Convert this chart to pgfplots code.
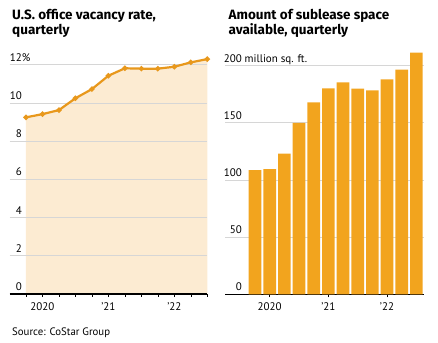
\documentclass[border=0pt]{standalone}
\usepackage{pgfplots}
\pgfplotsset{compat=1.18}
\usepackage{fontspec}
\setmainfont{PT Sans}
\newfontfamily\titlefont{Fira Sans}
\definecolor{lineor}{HTML}{E8981C}
\definecolor{fillpeach}{HTML}{FCEBD2}
\definecolor{baror}{HTML}{F2A41E}
\definecolor{gridg}{HTML}{D6D6D6}
\begin{document}
\begin{tikzpicture}
\begin{axis}[
  set layers,
  at={(9.5pt,-294pt)}, anchor=south west, scale only axis,
  width=197.8pt, height=236.8pt,
  xmin=-1, xmax=11, ymin=0, ymax=12.4,
  axis x line*=bottom, axis y line*=left,
  x axis line style={black, line width=1.5pt, -},
  y axis line style={draw=none},
  ytick={0,2,4,6,8,10,12},
  yticklabels={0,2,4,6,8,10,12\rlap{\%}},
  ytick style={draw=none},
  yticklabel style={anchor=base east, inner sep=0pt, xshift=15.5pt, yshift=3.5pt, font=\fontsize{11}{13}\selectfont},
  ymajorgrids, grid style={gridg, line width=0.8pt},
  xtick={1,5,9}, xticklabels={2020,’21,’22},
  minor xtick={0,...,11},
  tick align=outside,
  major tick length=3pt, minor tick length=2.5pt,
  tick style={black, line width=0.6pt},
  xticklabel style={anchor=base, inner sep=0pt, font=\fontsize{11}{13}\selectfont, yshift=-13.5pt},
  clip=false,
]
\addplot[fill=fillpeach, draw=none, on layer=axis background] coordinates {
(0,9.25)(1,9.42)(2,9.63)(3,10.25)(4,10.73)(5,11.43)(6,11.82)(7,11.8)(8,11.8)(9,11.9)(10,12.13)(11,12.3)} \closedcycle;
\addplot[lineor, line width=2.2pt, mark=*, mark size=1.4pt, mark options={fill=lineor, draw=lineor}] coordinates {
(0,9.25)(1,9.42)(2,9.63)(3,10.25)(4,10.73)(5,11.43)(6,11.82)(7,11.8)(8,11.8)(9,11.9)(10,12.13)(11,12.3)};
\end{axis}
\begin{axis}[
  at={(225pt,-294.3pt)}, anchor=south west, scale only axis,
  width=198.7pt, height=245.7pt,
  xmin=-2.05, xmax=11.5, ymin=0, ymax=215,
  axis x line*=bottom, axis y line*=left,
  x axis line style={black, line width=1.5pt, -},
  y axis line style={draw=none},
  ytick={0,50,100,150,200},
  yticklabels={0,50,100,150,200\rlap{ million sq. ft.}},
  ytick style={draw=none},
  yticklabel style={anchor=base east, inner sep=0pt, xshift=20pt, yshift=3.5pt, font=\fontsize{11}{13}\selectfont},
  ymajorgrids, grid style={gridg, line width=0.8pt},
  xtick={1,5,9}, xticklabels={2020,’21,’22},
  tick align=outside,
  major tick length=3pt,
  tick style={black, line width=0.6pt},
  xticklabel style={anchor=base, inner sep=0pt, font=\fontsize{11}{13}\selectfont, yshift=-13.5pt},
  ybar, bar width=12.7pt, bar shift=0pt,
  clip=false,
]
\addplot[fill=baror, draw=none] coordinates {
(0,108.7)(1,109.6)(2,123)(3,150)(4,168)(5,180.2)(6,185.5)(7,179.9)(8,178.5)(9,188)(10,196.5)(11,211.4)};
\end{axis}
\node[anchor=base west, inner sep=0pt, font=\titlefont\bfseries\fontsize{13.5}{15}\selectfont] at (12pt,-20pt) {U.S. office vacancy rate,};
\node[anchor=base west, inner sep=0pt, font=\titlefont\bfseries\fontsize{13.5}{15}\selectfont] at (12pt,-35pt) {quarterly};
\node[anchor=base west, inner sep=0pt, font=\titlefont\bfseries\fontsize{13.5}{15}\selectfont] at (228.5pt,-20pt) {Amount of sublease space};
\node[anchor=base west, inner sep=0pt, font=\titlefont\bfseries\fontsize{13.5}{15}\selectfont] at (228.5pt,-35pt) {available, quarterly};
\node[anchor=base west, inner sep=0pt, font=\fontsize{10.8}{12}\selectfont] at (12pt,-335pt) {Source: CoStar Group};
\path (0pt,0pt) rectangle (438pt,-342pt);
\end{tikzpicture}
\end{document}
